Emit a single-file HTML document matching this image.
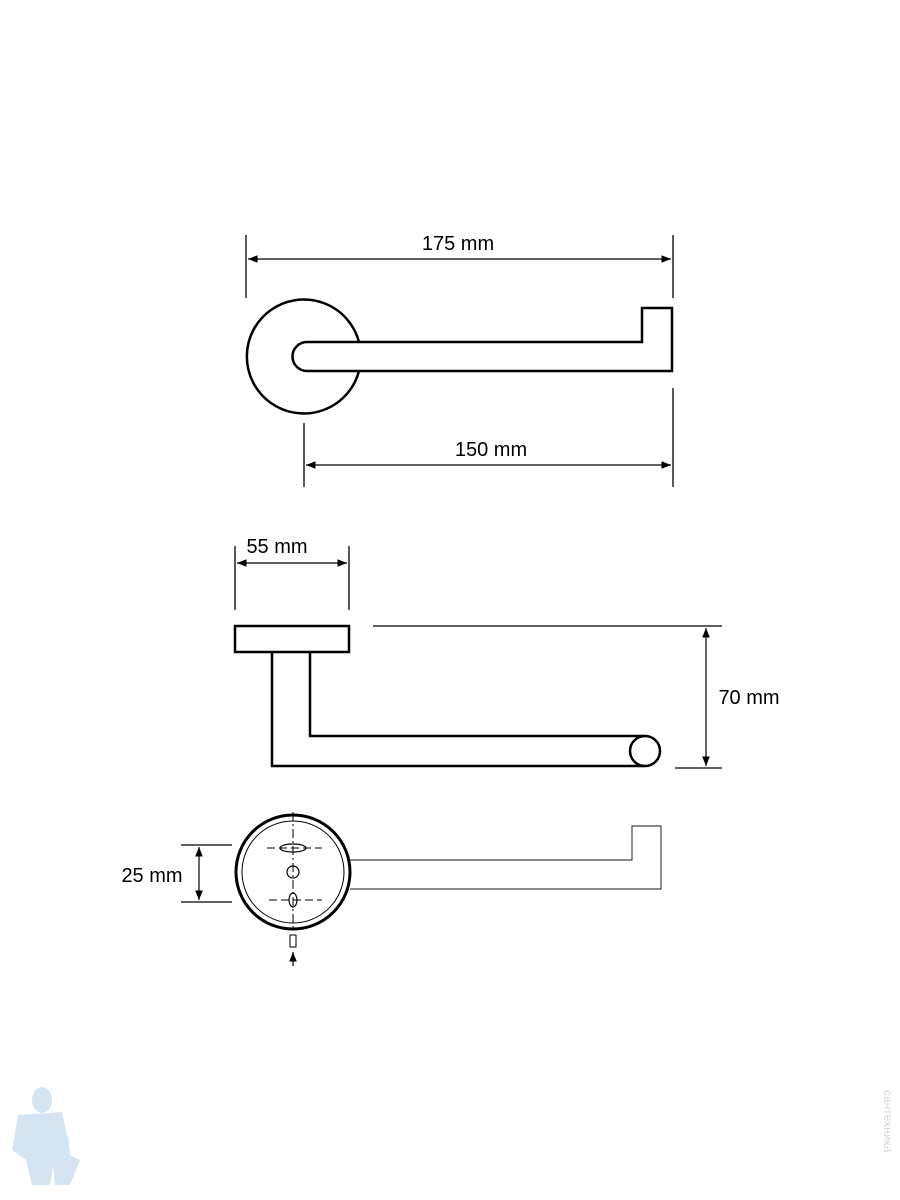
<!DOCTYPE html>
<html><head><meta charset="utf-8"><style>
html,body{margin:0;padding:0;background:#fff;width:900px;height:1200px;overflow:hidden}
</style></head><body>
<svg width="900" height="1200" viewBox="0 0 900 1200" xmlns="http://www.w3.org/2000/svg" font-family="Liberation Sans, sans-serif">
<defs>
<marker id="a" viewBox="0 0 10 10" refX="10" refY="5" markerWidth="8" markerHeight="8" orient="auto-start-reverse"><path d="M0,1 L10,5 L0,9 Z" fill="#000"/></marker>
</defs>
<g stroke="#000" fill="none">
<line x1="246" y1="235" x2="246" y2="298" stroke-width="1.3"/>
<line x1="673" y1="235" x2="673" y2="298" stroke-width="1.3"/>
<line x1="248" y1="259" x2="671" y2="259" stroke-width="1.2" marker-start="url(#a)" marker-end="url(#a)"/>
<path d="M359,342 A57,57 0 1 0 359,371" stroke-width="2.5"/>
<path d="M359,342 L642,342 L642,308 L672,308 L672,371 L307,371 A14.5,14.5 0 0 1 307,342 Z" stroke-width="2.5"/>
<line x1="304" y1="423" x2="304" y2="487" stroke-width="1.3"/>
<line x1="673" y1="388" x2="673" y2="487" stroke-width="1.3"/>
<line x1="306" y1="465" x2="671" y2="465" stroke-width="1.2" marker-start="url(#a)" marker-end="url(#a)"/>
<line x1="235" y1="546" x2="235" y2="610" stroke-width="1.3"/>
<line x1="349" y1="546" x2="349" y2="610" stroke-width="1.3"/>
<line x1="237" y1="563" x2="347" y2="563" stroke-width="1.2" marker-start="url(#a)" marker-end="url(#a)"/>
<rect x="235" y="626" width="114" height="26" stroke-width="2.5"/>
<path d="M272,652 L272,766 L645,766 M310,652 L310,736 L645,736" stroke-width="2.5"/>
<circle cx="645" cy="751" r="15" stroke-width="2.5"/>
<line x1="373" y1="626" x2="722" y2="626" stroke-width="1.2"/>
<line x1="675" y1="768" x2="722" y2="768" stroke-width="1.2"/>
<line x1="706" y1="628" x2="706" y2="766" stroke-width="1.2" marker-start="url(#a)" marker-end="url(#a)"/>
<circle cx="293" cy="872" r="57" stroke-width="3"/>
<circle cx="293" cy="872" r="51" stroke-width="1"/>
<path d="M350,860 L632,860 L632,826 L661,826 L661,889 L350,889" stroke-width="1.2" stroke="#444"/>
<line x1="293" y1="812" x2="293" y2="930" stroke-width="1" stroke-dasharray="9,3,2,3"/>
<line x1="267" y1="848" x2="322" y2="848" stroke-width="1" stroke-dasharray="8,4"/>
<line x1="269" y1="900" x2="322" y2="900" stroke-width="1" stroke-dasharray="8,4"/>
<ellipse cx="293" cy="848" rx="13" ry="4" stroke-width="1.2"/>
<circle cx="293" cy="872" r="6" stroke-width="1.2"/>
<ellipse cx="293" cy="900" rx="4" ry="7" stroke-width="1.2"/>
<rect x="290" y="935" width="6" height="12" stroke-width="1"/>
<line x1="293" y1="966" x2="293" y2="952" stroke-width="1.2" marker-end="url(#a)"/>
<line x1="181" y1="845" x2="232" y2="845" stroke-width="1.2"/>
<line x1="181" y1="902" x2="232" y2="902" stroke-width="1.2"/>
<line x1="199" y1="847" x2="199" y2="900" stroke-width="1.2" marker-start="url(#a)" marker-end="url(#a)"/>
</g>
<g font-size="20" fill="#000" text-anchor="middle">
<text x="458" y="250">175 mm</text>
<text x="491" y="456">150 mm</text>
<text x="277" y="553">55 mm</text>
<text x="749" y="704">70 mm</text>
<text x="152" y="882">25 mm</text>
</g>
<g fill="#c7dcf0" opacity="0.75">
<ellipse cx="42" cy="1100" rx="10" ry="13"/>
<path d="M18,1115 L62,1112 L70,1150 L55,1155 L50,1185 L32,1185 L26,1160 L12,1150 Z"/>
<path d="M50,1135 L68,1135 L70,1155 L80,1160 L70,1185 L55,1185 Z"/>
</g>
<text x="0" y="0" transform="translate(884,1090) rotate(90)" font-size="12" fill="#d8d8d8">сантехника</text>
</svg>
</body></html>
